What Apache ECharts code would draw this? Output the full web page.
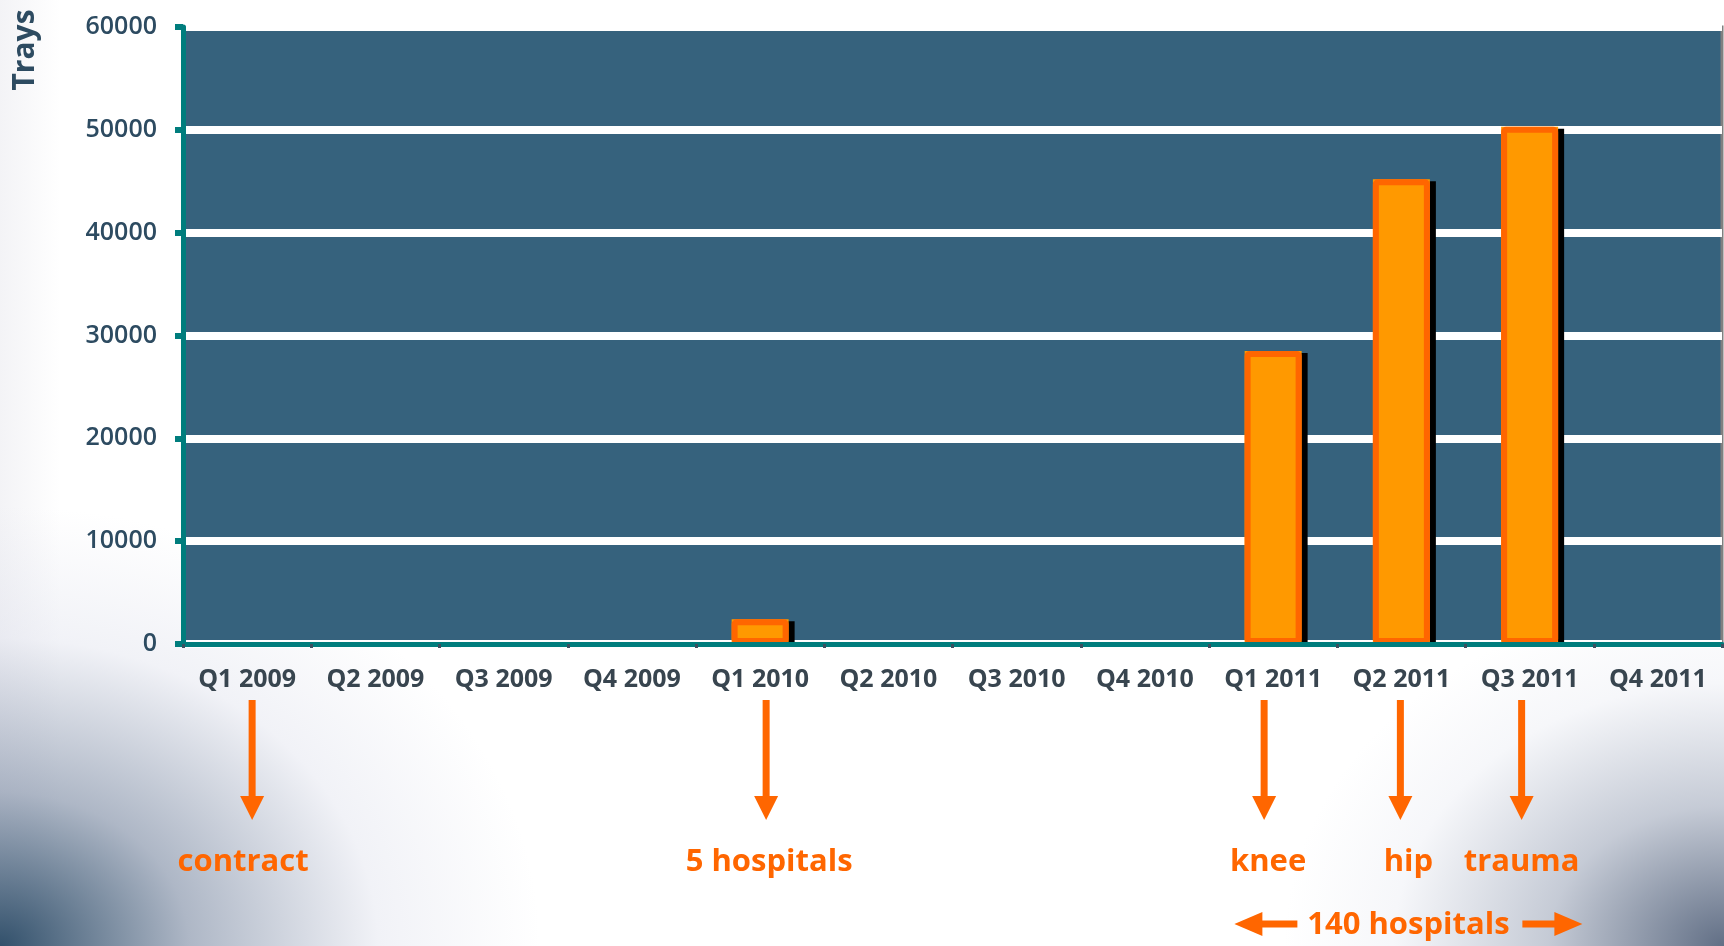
<!DOCTYPE html>
<html>
<head>
<meta charset="utf-8">
<script src="https://cdn.jsdelivr.net/npm/echarts@6/dist/echarts.min.js"></script>
<style>
  html, body { margin: 0; padding: 0; }
  body {
    width: 1724px; height: 946px; overflow: hidden;
    background-color: #fff;
    background-image:
      radial-gradient(ellipse 540px 440px at 0% 100%, rgba(40,72,100,0.95) 0%, rgba(120,135,160,0.6) 35%, rgba(215,218,232,0.35) 70%, rgba(255,255,255,0) 100%),
      radial-gradient(ellipse 440px 350px at 100% 100%, rgba(80,95,120,0.9) 0%, rgba(150,160,180,0.55) 40%, rgba(225,228,238,0.3) 75%, rgba(255,255,255,0) 100%),
      linear-gradient(to right, rgba(235,235,240,0.6) 0px, rgba(255,255,255,0) 60px);
  }
  #main { width: 1724px; height: 946px; }
</style>
</head>
<body>
<div id="main"></div>
<script>
// quarters on the x axis
var categories = ['Q1 2009', 'Q2 2009', 'Q3 2009', 'Q4 2009', 'Q1 2010', 'Q2 2010',
  'Q3 2010', 'Q4 2010', 'Q1 2011', 'Q2 2011', 'Q3 2011', 'Q4 2011']
// trays per quarter (null = nothing drawn)
var trays = [null, null, null, null, 2400, null, null, null, 28500, 45200, 50300, null]
// annotations under the axis
var noteCats = ['Q1 2009', 'Q1 2010', 'Q1 2011', 'Q2 2011', 'Q3 2011']
var noteTexts = ['contract', '5 hospitals', 'knee', 'hip', 'trauma']
var spanText = '140 hospitals'
var spanCat = 'Q2 2011'

// small hand nudges (px) so arrows / words sit where the slide has them
var arrowShift = [5, 6, -9, -1, -8]
var textShift = [-4, 9, -5, 7, -8]

var orange = '#ff6600'
var teal = '#007d7d'
var labelColor = '#2d4b61'

var option = {
  animation: false,
  grid: {
    left: 183, right: 2, top: 27, bottom: 302,
    show: true,
    backgroundColor: '#36627d',
    borderColor: '#808080',
    borderWidth: 3
  },
  xAxis: {
    type: 'category',
    data: categories,
    z: 5,
    axisLine: { lineStyle: { color: teal, width: 5 } },
    axisTick: { show: true, interval: 0, length: 4, lineStyle: { color: '#3c5060', width: 3 } },
    axisLabel: {
      interval: 0,
      margin: 23,
      color: '#38454f',
      fontFamily: 'Open Sans',
      fontWeight: 'bold',
      fontSize: 25
    }
  },
  yAxis: {
    type: 'value',
    min: 0,
    max: 60000,
    interval: 10000,
    axisLine: { show: true, lineStyle: { color: teal, width: 5 } },
    axisTick: { show: true, length: 8, lineStyle: { color: teal, width: 6 } },
    axisLabel: {
      margin: 26,
      color: labelColor,
      fontFamily: 'Open Sans',
      fontWeight: 600,
      fontSize: 25,
      formatter: function (v) { return String(v) }
    },
    splitLine: { lineStyle: { color: '#ffffff', width: 8 } }
  },
  series: [
    {
      // fill + drop shadow
      name: 'Trays',
      type: 'bar',
      data: trays,
      barWidth: 57,
      itemStyle: {
        color: '#ff9900',
        shadowColor: '#000',
        shadowBlur: 0,
        shadowOffsetX: 6,
        shadowOffsetY: 2
      }
    },
    {
      // orange outline on top, no shadow
      name: 'outline',
      type: 'bar',
      data: trays,
      barWidth: 57,
      barGap: '-100%',
      itemStyle: {
        color: 'rgba(0,0,0,0)',
        borderColor: orange,
        borderWidth: 6,
        borderRadius: 2
      }
    }
  ]
}

var myChart = echarts.init(document.getElementById('main'))
myChart.setOption(option)

// annotations placed from the category axis
var font = 'bold 31px "Open Sans"'
var graphics = [
  {
    type: 'text',
    x: 25, y: 50,
    rotation: Math.PI / 2,
    style: { text: 'Trays', font: 'bold 30px "Open Sans"', fill: labelColor, align: 'center', verticalAlign: 'middle' }
  }
]
noteCats.forEach(function (cat, i) {
  var cx = myChart.convertToPixel({ xAxisIndex: 0 }, cat)
  var x = cx + arrowShift[i]
  graphics.push({
    type: 'line',
    shape: { x1: x, y1: 700, x2: x, y2: 800 },
    style: { stroke: orange, lineWidth: 7 }
  })
  graphics.push({
    type: 'polygon',
    shape: { points: [[x - 12, 796], [x + 12, 796], [x, 820]] },
    style: { fill: orange }
  })
  graphics.push({
    type: 'text',
    x: cx + textShift[i], y: 862,
    style: { text: noteTexts[i], font: font, fill: orange, align: 'center', verticalAlign: 'middle' }
  })
})
var sx = myChart.convertToPixel({ xAxisIndex: 0 }, spanCat) + 7
graphics.push({
  type: 'text',
  x: sx, y: 925,
  style: { text: spanText, font: font, fill: orange, align: 'center', verticalAlign: 'middle' }
})
// left and right arrows beside the span label
graphics.push({ type: 'line', shape: { x1: sx - 111, y1: 924, x2: sx - 150, y2: 924 }, style: { stroke: orange, lineWidth: 7 } })
graphics.push({ type: 'polygon', shape: { points: [[sx - 146, 912], [sx - 146, 936], [sx - 174, 924]] }, style: { fill: orange } })
graphics.push({ type: 'line', shape: { x1: sx + 114, y1: 924, x2: sx + 150, y2: 924 }, style: { stroke: orange, lineWidth: 7 } })
graphics.push({ type: 'polygon', shape: { points: [[sx + 146, 912], [sx + 146, 936], [sx + 174, 924]] }, style: { fill: orange } })

myChart.setOption({ graphic: graphics })
</script>
</body>
</html>
